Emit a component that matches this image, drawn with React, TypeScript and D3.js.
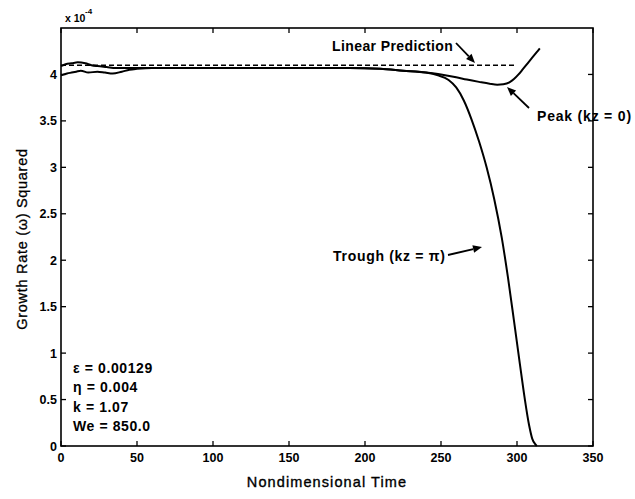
import React from "react";
import * as d3 from "d3";

const xTicks = [0, 50, 100, 150, 200, 250, 300, 350];
const yTicks = [0, 0.5, 1, 1.5, 2, 2.5, 3, 3.5, 4];
const yTickLabels = ["0", "0.5", "1", "1.5", "2", "2.5", "3", "3.5", "4"];

const linearT = [0, 300];
const linearV = [4.1, 4.1];

const peakT = [0, 3, 7, 11, 16, 20, 24, 30, 36, 42, 50, 60, 80, 100, 130, 160, 190, 210, 225, 240, 250, 260, 267, 275, 282, 287, 291, 295, 298, 301, 304, 307, 310, 313, 315];
const peakV = [4.09, 4.11, 4.12, 4.13, 4.12, 4.1, 4.09, 4.08, 4.07, 4.07, 4.07, 4.07, 4.07, 4.07, 4.07, 4.07, 4.07, 4.06, 4.04, 4.02, 4.0, 3.97, 3.945, 3.92, 3.9, 3.89, 3.895, 3.915, 3.95, 4.0, 4.06, 4.12, 4.18, 4.24, 4.28];

const troughT = [0, 4, 7, 10, 13, 18, 24, 29, 34, 40, 45, 50, 60, 80, 100, 130, 160, 190, 210, 225, 240, 248, 255, 260, 265, 270, 275, 280, 285, 290, 294, 298, 302, 305, 308, 310, 312, 313];
const troughV = [3.99, 4.01, 4.02, 4.03, 4.04, 4.02, 4.03, 4.02, 4.01, 4.03, 4.05, 4.06, 4.07, 4.07, 4.07, 4.07, 4.07, 4.07, 4.06, 4.04, 4.02, 3.99, 3.94, 3.86, 3.72, 3.52, 3.28, 3.0, 2.66, 2.24, 1.82, 1.35, 0.87, 0.52, 0.22, 0.08, 0.02, 0];

const params = ["ε = 0.00129", "η = 0.004", "k = 1.07", "We = 850.0"];

const W = 635, H = 499;
const L = 61, R = 593, T = 28, B = 446;

export default function App() {
  const x = d3.scaleLinear().domain([0, 350]).range([L, R]);
  const y = d3.scaleLinear().domain([0, 4.5]).range([B, T]);
  const line = d3.line<[number, number]>().x(d => x(d[0])).y(d => y(d[1])).curve(d3.curveMonotoneX);
  const zip = (a: number[], b: number[]) => a.map((v, i) => [v, b[i]] as [number, number]);
  const font = "'Liberation Sans', Arial, sans-serif";
  const tk = 5;

  const arrow = (x1: number, y1: number, x2: number, y2: number) => {
    const a = Math.atan2(y2 - y1, x2 - x1);
    const len = 9, wd = 3.8;
    const bx = x2 - len * Math.cos(a), by = y2 - len * Math.sin(a);
    const px = -Math.sin(a) * wd, py = Math.cos(a) * wd;
    return (
      <g>
        <line x1={x1} y1={y1} x2={bx} y2={by} stroke="#000" strokeWidth={1.8} />
        <path d={`M${x2},${y2}L${bx + px},${by + py}L${bx - px},${by - py}Z`} fill="#000" />
      </g>
    );
  };

  return (
    <svg width={W} height={H} style={{ position: "absolute", left: 0, top: 0, background: "#fff" }} fontFamily={font}>
      <rect x={0} y={0} width={W} height={H} fill="#fff" />
      {/* frame */}
      <rect x={L} y={T} width={R - L} height={B - T} fill="none" stroke="#000" strokeWidth={1.6} />
      {/* x ticks */}
      {xTicks.map(t => (
        <g key={"x" + t}>
          <line x1={x(t)} x2={x(t)} y1={B} y2={B - tk} stroke="#000" strokeWidth={1.3} />
          <line x1={x(t)} x2={x(t)} y1={T} y2={T + tk} stroke="#000" strokeWidth={1.3} />
          <text x={x(t)} y={462} textAnchor="middle" fontSize={12.5} fontWeight="bold">{t}</text>
        </g>
      ))}
      {/* y ticks */}
      {yTicks.map((t, i) => (
        <g key={"y" + t}>
          <line x1={L} x2={L + tk} y1={y(t)} y2={y(t)} stroke="#000" strokeWidth={1.3} />
          <line x1={R} x2={R - tk} y1={y(t)} y2={y(t)} stroke="#000" strokeWidth={1.3} />
          <text x={57} y={y(t) + 4.5} textAnchor="end" fontSize={12.5} fontWeight="bold">{yTickLabels[i]}</text>
        </g>
      ))}
      <text x={65} y={22} fontSize={10.5} fontWeight="bold">x 10</text>
      <text x={85} y={14} fontSize={8} fontWeight="bold">-4</text>
      {/* axis titles */}
      <text x={(L + R) / 2} y={487} textAnchor="middle" fontSize={14.5} letterSpacing={1.1} stroke="#000" strokeWidth={0.35}>Nondimensional Time</text>
      <text transform={`translate(27,${(T + B) / 2 + 2}) rotate(-90)`} textAnchor="middle" fontSize={14.5} letterSpacing={0.7} stroke="#000" strokeWidth={0.3}>Growth Rate (ω) Squared</text>
      {/* curves */}
      <path d={line(zip(linearT, linearV)) || ""} fill="none" stroke="#000" strokeWidth={1.5} strokeDasharray="5,3" />
      <path d={line(zip(peakT, peakV)) || ""} fill="none" stroke="#000" strokeWidth={2} />
      <path d={line(zip(troughT, troughV)) || ""} fill="none" stroke="#000" strokeWidth={2} />
      {/* annotations */}
      <text x={332} y={51} fontSize={14} fontWeight="bold" letterSpacing={0.4}>Linear Prediction</text>
      {arrow(456, 43, 475, 63)}
      <text x={537} y={121} fontSize={14} fontWeight="bold" letterSpacing={0.8}>Peak (kz = 0)</text>
      {arrow(529, 108, 507, 87)}
      <text x={333} y={261} fontSize={14} fontWeight="bold" letterSpacing={0.7}>Trough (kz = π)</text>
      {arrow(448, 255, 482, 247)}
      {params.map((p, i) => (
        <text key={p} x={73} y={373 + i * 19.3} fontSize={14} fontWeight="bold" letterSpacing={0.6}>{p}</text>
      ))}
    </svg>
  );
}
